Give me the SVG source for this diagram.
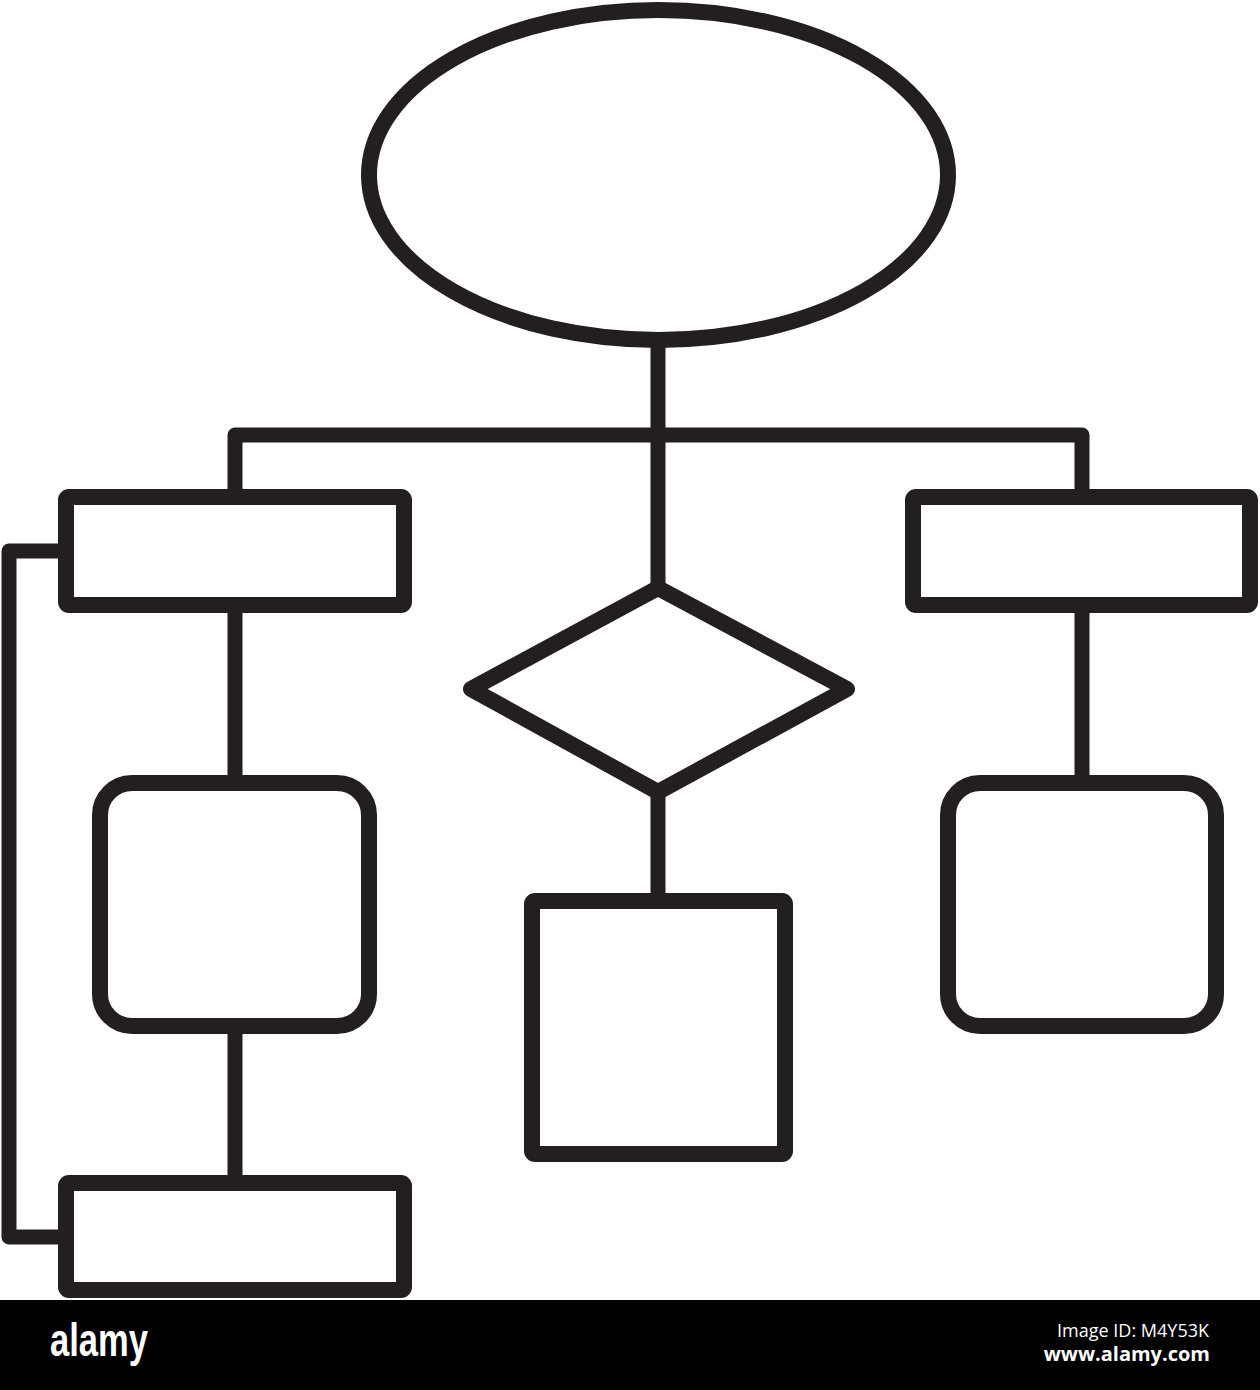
<svg xmlns="http://www.w3.org/2000/svg" width="1260" height="1390" viewBox="0 0 1260 1390">
<style>
.s{fill:none;stroke:#231f20;stroke-width:16;stroke-linejoin:round}
.c{fill:none;stroke:#231f20;stroke-width:15;stroke-linejoin:round}
.w{fill:#fff}
</style>
<rect width="1260" height="1390" fill="#fff"/>
<g id="connectors">
<line class="c" x1="658" y1="340" x2="658" y2="588"/>
<polyline class="c" points="235,496 235,435 1082,435 1082,496"/>
<line class="c" x1="235" y1="604" x2="235" y2="783"/>
<line class="c" x1="235" y1="1026" x2="235" y2="1183"/>
<line class="c" x1="1082" y1="604" x2="1082" y2="783"/>
<line class="c" x1="658" y1="792" x2="658" y2="901"/>
<polyline class="c" points="66,551 9,551 9,1237 66,1237"/>
</g>
<g id="start"><ellipse class="s" cx="658.5" cy="175" rx="289.5" ry="165" stroke-width="18"/></g>
<g id="box-left-top"><rect class="s" x="66" y="497" width="338" height="108" rx="3"/></g>
<g id="box-right-top"><rect class="s" x="913" y="497" width="337" height="108" rx="3"/></g>
<g id="decision"><polygon class="s" points="658,588 847,689 658,792 471,689"/></g>
<g id="box-left-mid"><rect class="s" x="100" y="783" width="269" height="243" rx="32"/></g>
<g id="box-center"><rect class="s" x="532" y="901" width="253" height="253" rx="3"/></g>
<g id="box-right-mid"><rect class="s" x="948" y="783" width="268" height="243" rx="32"/></g>
<g id="box-left-bottom"><rect class="s" x="66" y="1183" width="338" height="107" rx="3"/></g>
<rect x="0" y="1300" width="1260" height="90" fill="#000"/>
<text class="w" x="50" y="1356" font-family="'Liberation Sans Narrow','Liberation Sans',sans-serif" font-size="46" font-weight="bold" textLength="98" lengthAdjust="spacingAndGlyphs">alamy</text>
<text class="w" x="1209" y="1337" font-family="'Open Sans',sans-serif" font-size="18" text-anchor="end" fill="#e6e6e6">Image ID: M4Y53K</text>
<text class="w" x="1210" y="1361" font-family="'Open Sans',sans-serif" font-size="20" font-weight="bold" text-anchor="end">www.alamy.com</text>
</svg>
